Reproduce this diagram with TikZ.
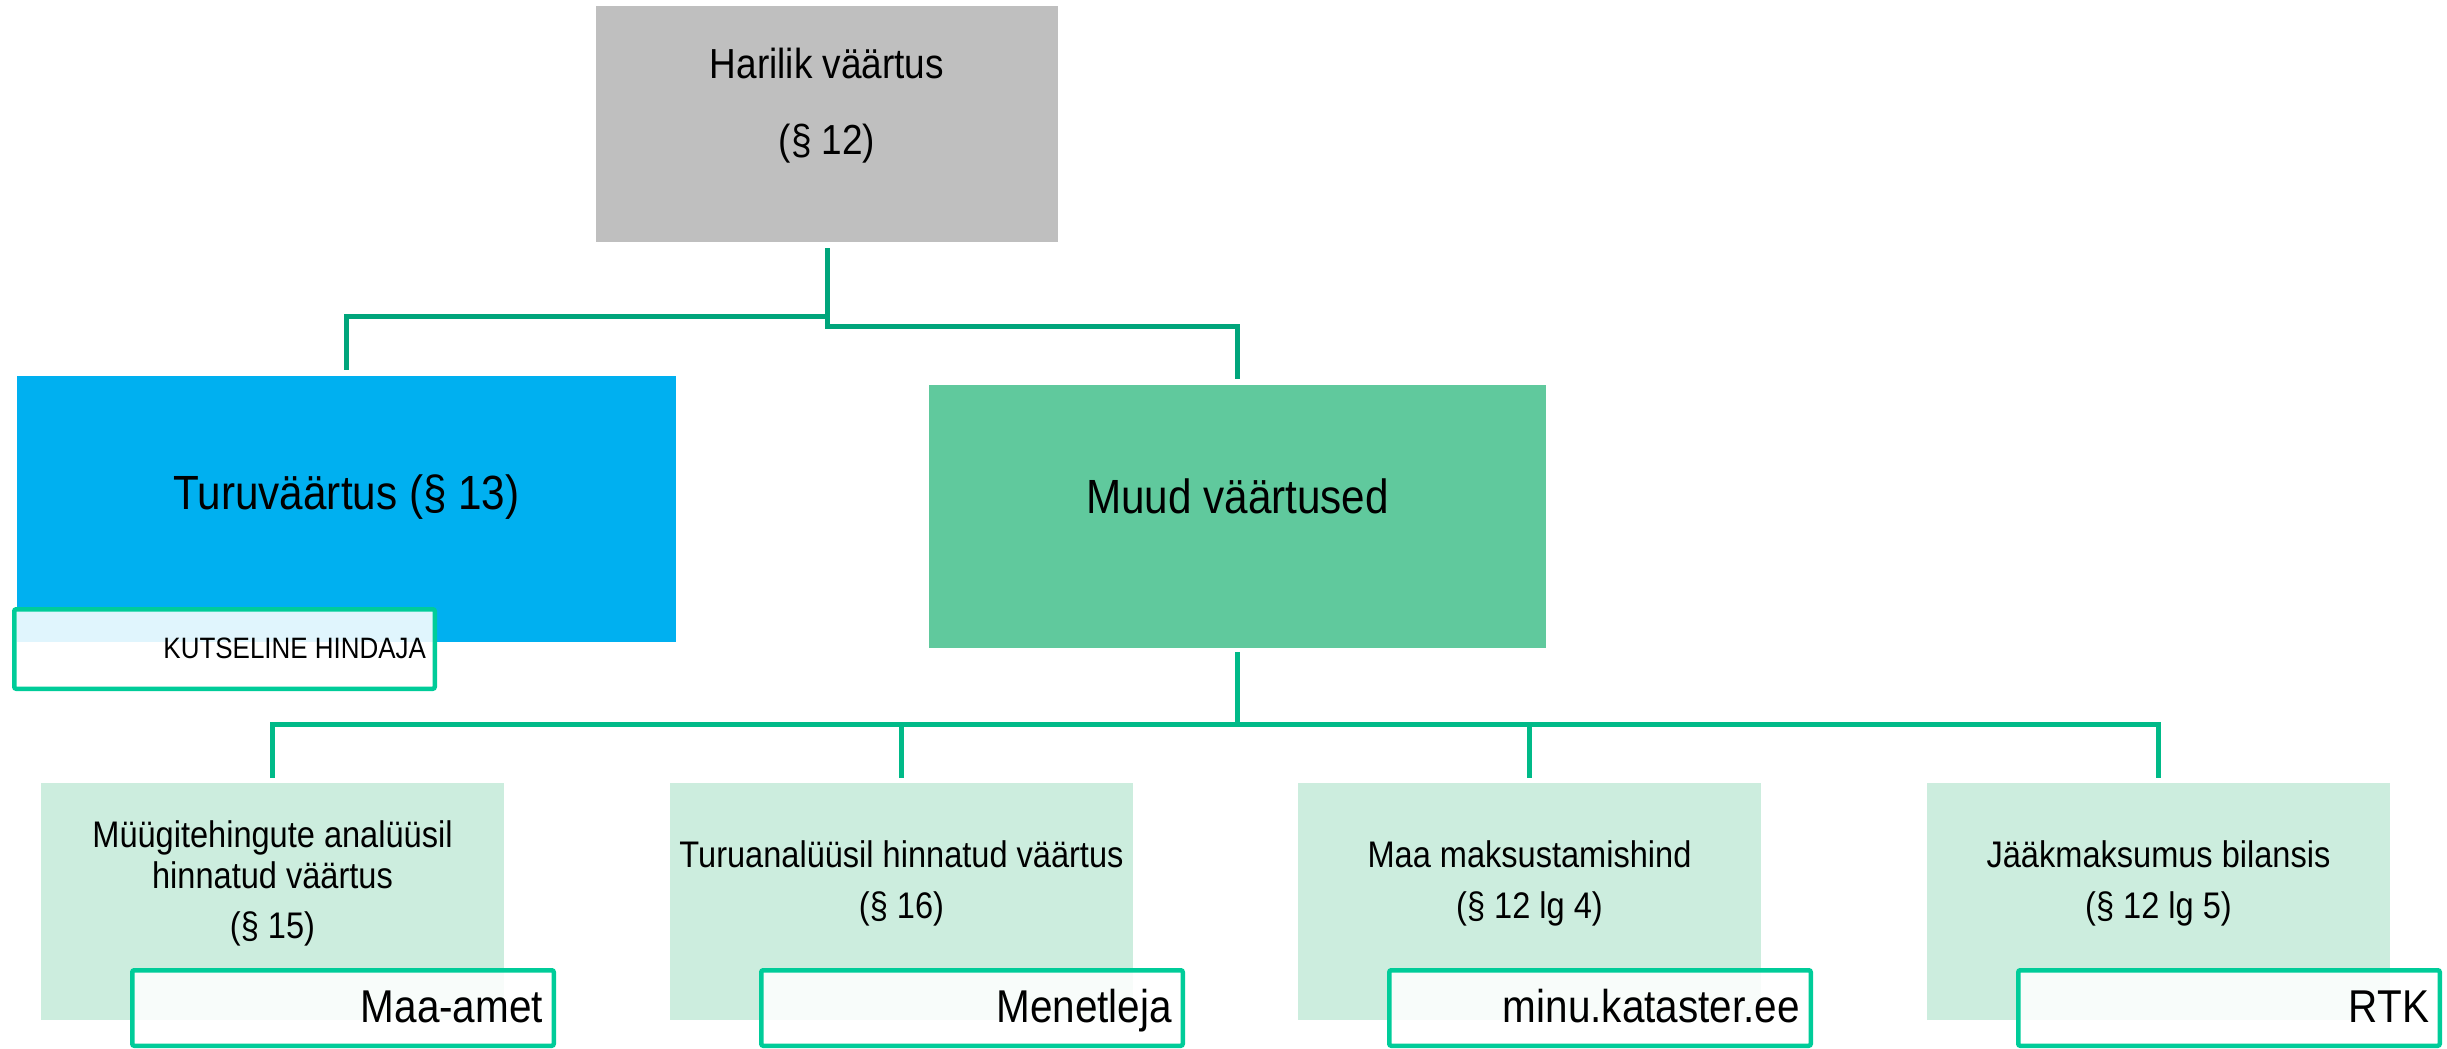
\documentclass[tikz,border=0pt]{standalone}
\usepackage{fontspec}
\setmainfont{Liberation Sans}[FakeStretch=0.88]
\definecolor{hgray}{HTML}{BFBFBF}
\definecolor{tblue}{HTML}{00B0F0}
\definecolor{mgreen}{HTML}{60C99D}
\definecolor{lgreen}{HTML}{CCEDDE}
\definecolor{toplinec}{HTML}{00A57B}
\definecolor{botlinec}{HTML}{00BA88}
\definecolor{tagline}{HTML}{00CC99}
\newcommand\fsHead{\fontsize{42}{50}\selectfont}
\newcommand\fsMid{\fontsize{48}{56}\selectfont}
\newcommand\fsLow{\fontsize{37}{44}\selectfont}
\newcommand\fsTag{\fontsize{46}{54}\selectfont}
\newcommand\fsSmallTag{\fontsize{29.5}{36}\selectfont}
\begin{document}
\begin{tikzpicture}[x=1pt,y=-1pt,
  box/.style={rectangle,inner sep=0pt,outer sep=0pt,anchor=north west},
  tagbox/.style={rectangle,draw=tagline,line width=4.5pt,rounded corners=2pt,
    fill=white,fill opacity=0.88,inner sep=0pt,outer sep=0pt,anchor=north west,
    minimum width=421.5pt,minimum height=75.5pt},
  txt/.style={inner sep=0pt,outer sep=0pt,text=black},
  topline/.style={draw=toplinec,line width=5pt},
  botline/.style={draw=botlinec,line width=5pt}]
\useasboundingbox (0,0) rectangle (2447,1049);

% top level
\node[box,fill=hgray,minimum width=462pt,minimum height=236pt] (harilik) at (596,6) {};
\node[txt,font=\fsHead,anchor=base] (harilikT) at (827,78) {Harilik väärtus};
\node[txt,font=\fsHead,anchor=base] (harilikP) at (827,154) {(§ 12)};

% second level
\node[box,fill=tblue,minimum width=659pt,minimum height=266pt] (turu) at (17,376) {};
\node[txt,font=\fsMid,anchor=base] (turuT) at (346.5,509) {Turuväärtus (§ 13)};
\node[box,fill=mgreen,minimum width=617pt,minimum height=263pt] (muud) at (929,385) {};
\node[txt,font=\fsMid,anchor=base] (muudT) at (1237.5,513) {Muud väärtused};

% connectors from the top box
\draw[topline] ([yshift=-6pt]harilik.south) -- ([yshift=-74pt]harilik.south) -| ([yshift=6pt]turu.north);
\draw[topline] ([yshift=-6pt]harilik.south) -- ([yshift=-84pt]harilik.south) -| ([yshift=6pt]muud.north);

% third level
\node[box,fill=lgreen,minimum width=463pt,minimum height=237pt] (b1) at (41,783) {};
\node[box,fill=lgreen,minimum width=463pt,minimum height=237pt] (b2) at (670,783) {};
\node[box,fill=lgreen,minimum width=463pt,minimum height=237pt] (b3) at (1298,783) {};
\node[box,fill=lgreen,minimum width=463pt,minimum height=237pt] (b4) at (1927,783) {};

\node[txt,font=\fsLow,anchor=base] (b1a) at (272.5,847) {Müügitehingute analüüsil};
\node[txt,font=\fsLow,anchor=base] (b1b) at (272.5,888) {hinnatud väärtus};
\node[txt,font=\fsLow,anchor=base] (b1c) at (272.5,938) {(§ 15)};
\node[txt,font=\fsLow,anchor=base] (b2a) at (901.5,867) {Turuanalüüsil hinnatud väärtus};
\node[txt,font=\fsLow,anchor=base] (b2b) at (901.5,918) {(§ 16)};
\node[txt,font=\fsLow,anchor=base] (b3a) at (1529.5,867) {Maa maksustamishind};
\node[txt,font=\fsLow,anchor=base] (b3b) at (1529.5,918) {(§ 12 lg 4)};
\node[txt,font=\fsLow,anchor=base] (b4a) at (2158.5,867) {Jääkmaksumus bilansis};
\node[txt,font=\fsLow,anchor=base] (b4b) at (2158.5,918) {(§ 12 lg 5)};

% connectors to the third level
\draw[botline] ([yshift=-4pt]muud.south) -- ([yshift=-76pt]muud.south) coordinate (bus);
\draw[botline] ([yshift=5pt]b1.north) |- (b4.north |- bus) -- ([yshift=5pt]b4.north);
\draw[botline] (b2.north |- bus) -- ([yshift=5pt]b2.north);
\draw[botline] (b3.north |- bus) -- ([yshift=5pt]b3.north);

% tags
\node[tagbox,minimum width=420.5pt,minimum height=79.5pt] (tagK) at (14.25,609.25) {};
\node[txt,font=\fsSmallTag,anchor=base east] (tagKT) at (426,658) {KUTSELINE HINDAJA};

\node[tagbox] (tag1) at (132.25,970.25) {};
\node[tagbox] (tag2) at (761.25,970.25) {};
\node[tagbox] (tag3) at (1389.25,970.25) {};
\node[tagbox] (tag4) at (2018.25,970.25) {};
\node[txt,font=\fsTag,anchor=base east] (tag1T) at (543,1022) {Maa-amet};
\node[txt,font=\fsTag,anchor=base east] (tag2T) at (1172,1022) {Menetleja};
\node[txt,font=\fsTag,anchor=base east] (tag3T) at (1800,1022) {minu.kataster.ee};
\node[txt,font=\fsTag,anchor=base east] (tag4T) at (2429,1022) {RTK};
\end{tikzpicture}
\end{document}
